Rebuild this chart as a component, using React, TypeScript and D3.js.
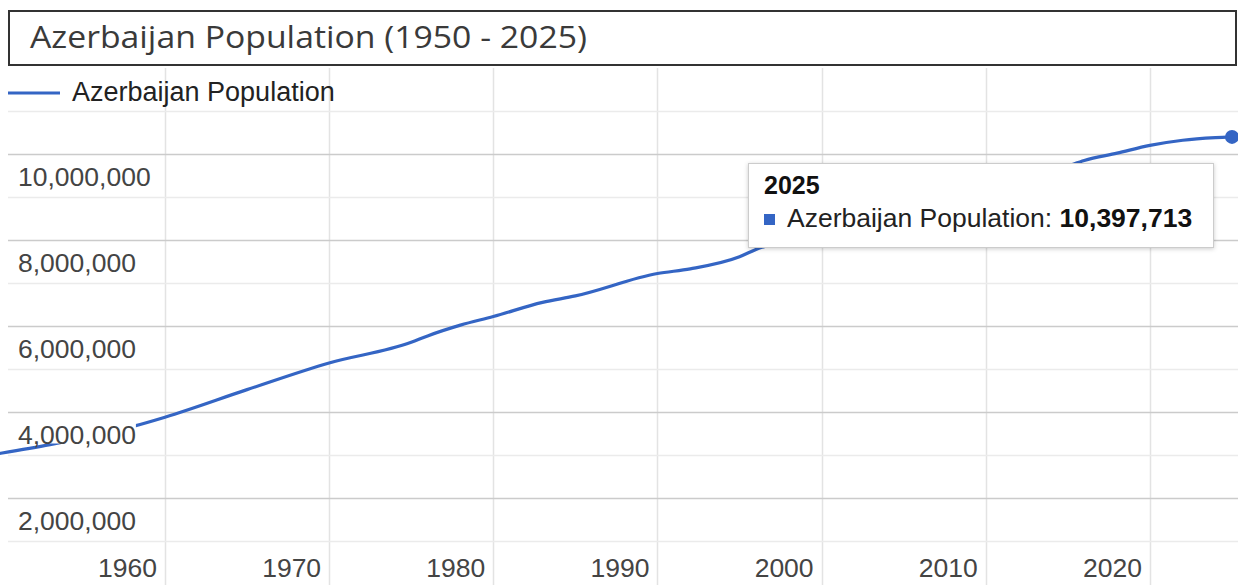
import React, { useEffect, useRef } from "react";
import * as d3 from "d3";

const TITLE = "Azerbaijan Population (1950 - 2025)";
const SERIES_NAME = "Azerbaijan Population";
const YEARS = [1950, 1953, 1955, 1958, 1960, 1965, 1970, 1975, 1976, 1978, 1980, 1983, 1985, 1990, 1992, 1995, 1996, 2000, 2005, 2010, 2015, 2016, 2018, 2020, 2022, 2024, 2025];
const POPULATION = [3040000, 3240000, 3390000, 3660000, 3880000, 4520000, 5140000, 5620000, 5770000, 6020000, 6220000, 6550000, 6700000, 7220000, 7330000, 7610000, 7780000, 8120000, 8580000, 9120000, 9720000, 9850000, 10020000, 10200000, 10320000, 10380000, 10397713];
const Y_MAJOR_TICKS = [2000000, 4000000, 6000000, 8000000, 10000000];
const Y_MINOR_TICKS = [1000000, 3000000, 5000000, 7000000, 9000000, 11000000];
const X_TICKS = [1960, 1970, 1980, 1990, 2000, 2010, 2020];
const TOOLTIP_YEAR = 2025;
const TOOLTIP_VALUE = 10397713;

const W = 1238;
const H = 585;
const BLUE = "#3465c4";
const FONT = "Arial, 'Liberation Sans', sans-serif";
const FS = 26.5;

export default function App() {
  const ref = useRef<SVGSVGElement>(null);

  useEffect(() => {
    const svg = d3.select(ref.current);
    svg.selectAll("*").remove();
    const x = d3.scaleLinear().domain([1950, 2025]).range([0.8, 1232]);
    const y = d3.scaleLinear().domain([0, 10000000]).range([584, 154]);
    const fmt = d3.format(",");

    svg.append("rect").attr("width", W).attr("height", H).attr("fill", "#fff");

    // vertical gridlines
    svg.append("g").selectAll("line").data(X_TICKS).join("line")
      .attr("x1", d => Math.round(x(d)) + 0.5).attr("x2", d => Math.round(x(d)) + 0.5)
      .attr("y1", 68).attr("y2", H)
      .attr("stroke", "#e3e3e3").attr("stroke-width", 1.5);

    // minor horizontal gridlines
    svg.append("g").selectAll("line").data(Y_MINOR_TICKS).join("line")
      .attr("x1", 8).attr("x2", W)
      .attr("y1", d => Math.round(y(d)) + 0.5).attr("y2", d => Math.round(y(d)) + 0.5)
      .attr("stroke", "#ebebeb").attr("stroke-width", 1.5);

    // major horizontal gridlines
    svg.append("g").selectAll("line").data(Y_MAJOR_TICKS).join("line")
      .attr("x1", 8).attr("x2", W)
      .attr("y1", d => Math.round(y(d)) + 0.5).attr("y2", d => Math.round(y(d)) + 0.5)
      .attr("stroke", "#cbcbcb").attr("stroke-width", 1.5);

    // series line
    const line = d3.line<number>()
      .x((_, i) => x(YEARS[i]))
      .y(d => y(d))
      .curve(d3.curveMonotoneX);
    svg.append("path").datum(POPULATION).attr("d", line)
      .attr("fill", "none").attr("stroke", BLUE).attr("stroke-width", 3.2)
      .attr("stroke-linejoin", "round").attr("stroke-linecap", "round");

    // y labels (with white box above baseline)
    const yl = svg.append("g");
    Y_MAJOR_TICKS.forEach(t => {
      const g = yl.append("g");
      const base = y(t) + 31.5;
      const txt = g.append("text")
        .attr("x", 18).attr("y", base)
        .attr("font-family", FONT).attr("font-size", FS).attr("fill", "#444")
        .text(fmt(t));
      const bb = (txt.node() as SVGTextElement).getBBox();
      g.insert("rect", "text")
        .attr("x", bb.x).attr("y", base - FS * 0.8)
        .attr("width", bb.width).attr("height", FS * 0.8)
        .attr("fill", "#fff");
    });

    // x labels
    svg.append("g").selectAll("text").data(X_TICKS).join("text")
      .attr("x", d => x(d) - 8).attr("y", 577)
      .attr("text-anchor", "end")
      .attr("font-family", FONT).attr("font-size", FS).attr("fill", "#444")
      .text(d => String(d));

    // title box
    svg.append("rect").attr("x", 9).attr("y", 11).attr("width", 1227).attr("height", 54)
      .attr("fill", "#fff").attr("stroke", "#333").attr("stroke-width", 2);
    svg.append("text").attr("x", 30).attr("y", 48)
      .attr("font-family", "'Open Sans', sans-serif").attr("font-size", 31).attr("fill", "#3a3a3a")
      .attr("textLength", 557).attr("lengthAdjust", "spacingAndGlyphs")
      .text(TITLE);

    // legend
    svg.append("line").attr("x1", 8).attr("x2", 60).attr("y1", 93).attr("y2", 93)
      .attr("stroke", BLUE).attr("stroke-width", 3);
    svg.append("text").attr("x", 72).attr("y", 101)
      .attr("font-family", FONT).attr("font-size", 27).attr("fill", "#222")
      .text(SERIES_NAME);

    // highlighted point
    svg.append("circle").attr("cx", x(TOOLTIP_YEAR)).attr("cy", y(TOOLTIP_VALUE)).attr("r", 7)
      .attr("fill", BLUE);

    // tooltip
    const tip = svg.append("g");
    tip.append("rect").attr("x", 748.5).attr("y", 163.5).attr("width", 465).attr("height", 84)
      .attr("fill", "#fff").attr("stroke", "#cccccc").attr("stroke-width", 1)
      .style("filter", "drop-shadow(0px 1px 2px rgba(0,0,0,0.2))");
    tip.append("text").attr("x", 764).attr("y", 194)
      .attr("font-family", FONT).attr("font-size", 25).attr("font-weight", "bold").attr("fill", "#111")
      .text(String(TOOLTIP_YEAR));
    tip.append("rect").attr("x", 764).attr("y", 214).attr("width", 11).attr("height", 11).attr("fill", BLUE);
    const tt = tip.append("text").attr("x", 787).attr("y", 227)
      .attr("font-family", FONT).attr("font-size", FS).attr("fill", "#222")
      .style("white-space", "pre");
    tt.append("tspan").text(SERIES_NAME + ": ");
    tt.append("tspan").attr("font-weight", "bold").attr("fill", "#111").text(fmt(TOOLTIP_VALUE));
  }, []);

  return (
    <svg
      ref={ref}
      width={W}
      height={H}
      style={{ position: "fixed", left: 0, top: 0, display: "block" }}
    />
  );
}
